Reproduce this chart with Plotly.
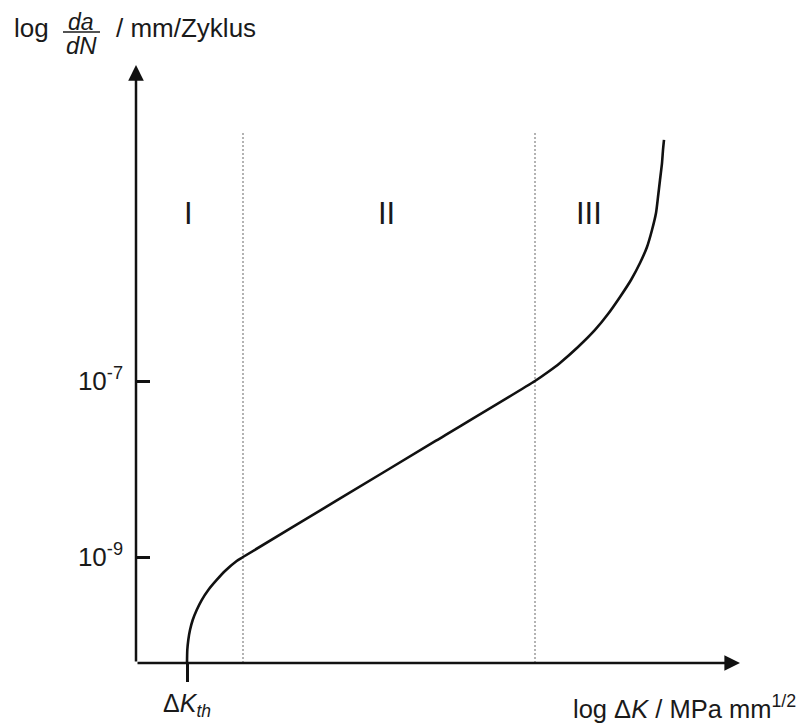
import plotly.graph_objects as go

# ---- data (x: log ΔK, arbitrary units; y: log10 da/dN) ----
curve_x = [0.510, 0.513, 0.523, 0.540, 0.567, 0.607, 0.657, 0.723, 0.807, 0.890, 1.007, 1.070,
           2.00, 3.00,
           3.99, 4.12, 4.24, 4.42, 4.59, 4.72, 4.84, 4.95, 5.04, 5.11, 5.16, 5.20, 5.22,
           5.24, 5.26, 5.27, 5.28]
curve_y = [-10.205, -10.057, -9.943, -9.830, -9.716, -9.602, -9.489, -9.375, -9.261, -9.159,
           -9.045, -9.0,
           -8.363, -7.678,
           -7.0, -6.898, -6.795, -6.614, -6.420, -6.239, -6.045, -5.852, -5.659, -5.477,
           -5.284, -5.091, -4.909, -4.716, -4.523, -4.375, -4.261]
region_bounds = [1.07, 3.99]
region_labels = ["I", "II", "III"]
region_label_x = [0.52, 2.50, 4.53]
region_label_y = -5.10
y_tick_vals = [-9, -7]
y_tick_text = ["10<sup>-9</sup>", "10<sup>-7</sup>"]
dk_th = 0.51
x_tick_text = ["Δ<i>K</i><sub><i>th</i></sub>"]

x_range = [0.0, 6.04]
y_range = [-10.2045, -3.409]
dotted_top = -4.182

OFF = 8  # page body margin
W, H = 804, 726
ML, MT = 136 - OFF, 65 - OFF
MR, MB = W - (740 - OFF), H - (663 - OFF)
FONT = "Liberation Sans, Arial, sans-serif"
INK = "#1a1a1a"

pw = W - ML - MR
ph = H - MT - MB


def sx(px):  # screen px -> paper x
    return (px - OFF - ML) / pw


def sy(py):  # screen px -> paper y
    return 1 - (py - OFF - MT) / ph


fig = go.Figure()

for b in region_bounds:
    fig.add_trace(go.Scatter(
        x=[b, b], y=[y_range[0], dotted_top], mode="lines",
        line=dict(color="#9a9a9a", width=1.5, dash="2px,2px"),
        hoverinfo="skip"))

fig.add_trace(go.Scatter(
    x=curve_x, y=curve_y, mode="lines",
    line=dict(color="#111111", width=2.6, shape="spline", smoothing=0.6),
    hoverinfo="skip"))

annotations = []
for lx, lt in zip(region_label_x, region_labels):
    annotations.append(dict(x=lx, y=region_label_y, text=lt, showarrow=False,
                            font=dict(size=31, color=INK, family=FONT),
                            xanchor="center", yanchor="middle"))

# axis arrows
arrow_common = dict(text="", showarrow=True, arrowhead=2, arrowsize=1.25,
                    arrowwidth=2.5, arrowcolor="#111111", standoff=0,
                    axref="x", ayref="y", xref="x", yref="y")
annotations.append(dict(x=x_range[1], y=y_range[0], ax=x_range[0], ay=y_range[0],
                        **arrow_common))
annotations.append(dict(x=x_range[0], y=y_range[1], ax=x_range[0], ay=y_range[0],
                        **arrow_common))


def ptext(px, py, text, size, xanchor="left"):
    return dict(x=sx(px), y=sy(py), xref="paper", yref="paper", text=text,
                showarrow=False, xanchor=xanchor, yanchor="middle",
                font=dict(size=size, color=INK, family=FONT))


# y-axis title: log da/dN / mm/Zyklus
annotations.append(ptext(12, 28, "log", 26))
annotations.append(ptext(81, 22, "<i>da</i>", 23, "center"))
annotations.append(ptext(81, 45, "<i>dN</i>", 24, "center"))
annotations.append(ptext(114, 28, "/ mm/Zyklus", 26))
# x-axis title
annotations.append(ptext(571, 707, "log Δ<i>K</i> / MPa mm<sup>1/2</sup>", 25.5))

shapes = [dict(type="line", xref="paper", yref="paper", x0=sx(63), x1=sx(100),
               y0=sy(32), y1=sy(32), line=dict(color=INK, width=1.5))]

fig.update_layout(
    width=W, height=H,
    margin=dict(l=ML, r=MR, t=MT, b=MB, pad=0),
    paper_bgcolor="white", plot_bgcolor="white",
    showlegend=False,
    annotations=annotations, shapes=shapes,
    xaxis=dict(range=x_range, showgrid=False, zeroline=False, showline=False,
               tickmode="array", tickvals=[dk_th], ticktext=x_tick_text,
               ticks="outside", ticklen=18, tickwidth=2.5, tickcolor="#111111",
               tickfont=dict(size=25, color=INK, family=FONT)),
    yaxis=dict(range=y_range, showgrid=False, zeroline=False, showline=False,
               tickmode="array", tickvals=y_tick_vals, ticktext=y_tick_text,
               ticks="inside", ticklen=14, tickwidth=2.5, tickcolor="#111111",
               ticklabelstandoff=12,
               tickfont=dict(size=26, color=INK, family=FONT)),
)

fig.write_html("out.html")
